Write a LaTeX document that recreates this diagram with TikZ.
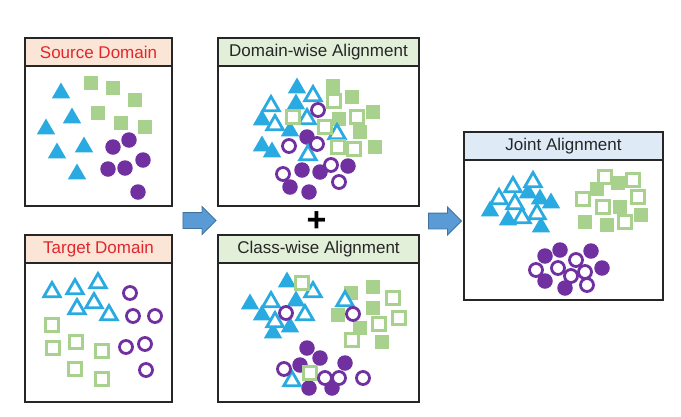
\documentclass[tikz,border=0pt]{standalone}
\usepackage{fontspec}
\setmainfont{Liberation Sans}
\usetikzlibrary{positioning,shapes.geometric,shapes.arrows}
\definecolor{triblue}{RGB}{41,171,226}
\definecolor{sqgreen}{RGB}{169,209,142}
\definecolor{dotpurple}{RGB}{112,48,160}
\definecolor{domhead}{RGB}{251,229,214}
\definecolor{alignhead}{RGB}{226,240,217}
\definecolor{jointhead}{RGB}{222,235,247}
\definecolor{domred}{RGB}{226,38,45}
\definecolor{arrowfill}{RGB}{91,155,213}
\definecolor{arrowline}{RGB}{65,113,156}

\begin{document}
\begin{tikzpicture}[
  x=1pt, y=-1pt,
  every node/.style={font=\fontsize{17}{19}\selectfont},
  panel/.style={draw=black!85, line width=1.3pt, fill=white,
    inner sep=0pt},
  header/.style={draw=black!85, line width=1.3pt, fill=#1,
    anchor=north, minimum height=28pt, inner sep=0pt},
  ftri/.style={regular polygon, regular polygon sides=3, fill=triblue,
    minimum size=21pt, inner sep=0pt},
  otri/.style={regular polygon, regular polygon sides=3, draw=triblue,
    fill=white, line width=2.8pt, minimum size=19pt, inner sep=0pt},
  fsq/.style={rectangle, fill=sqgreen, minimum size=14.5pt, inner sep=0pt},
  osq/.style={rectangle, draw=sqgreen, fill=white, line width=3pt,
    minimum size=13.5pt, inner sep=0pt},
  fdot/.style={circle, fill=dotpurple, minimum size=15.5pt, inner sep=0pt},
  odot/.style={circle, draw=dotpurple, fill=white, line width=2.8pt,
    minimum size=13pt, inner sep=0pt},
  blockarrow/.style={single arrow, draw=arrowline, fill=arrowfill,
    line width=0.8pt, inner xsep=0pt, inner ysep=7.5pt,
    single arrow head extend=6pt, minimum height=33pt},
]
\useasboundingbox (0,0) rectangle (681,416);

% ── PANELS ──
\node[panel, minimum width=147pt, minimum height=168pt] at ( 98.5,122.0) (src)   {};
\node[panel, minimum width=147pt, minimum height=167pt] at ( 98.5,318.5) (tgt)   {};
\node[panel, minimum width=201pt, minimum height=168pt] at (318.5,122.0) (dom)   {};
\node[panel, minimum width=201pt, minimum height=167pt] at (318.5,318.5) (cls)   {};
\node[panel, minimum width=199pt, minimum height=168pt] at (563.5,216.0) (joint) {};

\node[header=domhead, minimum width=147pt, text=domred] at (src.north) (srcH) {Source Domain};
\node[header=domhead, minimum width=147pt, text=domred] at (tgt.north) (tgtH) {Target Domain};
\node[header=alignhead, minimum width=201pt, text=black!85] at (dom.north) (domH) {Domain-wise Alignment};
\node[header=alignhead, minimum width=201pt, text=black!85] at (cls.north) (clsH) {Class-wise Alignment};
\node[header=jointhead, minimum width=199pt, text=black!85] at (joint.north) (jointH) {Joint Alignment};

% ── ARROWS + PLUS ──
\node[blockarrow] at (195.5,220.5) (arrL) {};
\node[blockarrow] at (441.0,221.0) (arrR) {};
\node[font=\fontsize{34}{34}\selectfont\bfseries, inner sep=0pt] at (316.5,221.5) (plus) {+};

% ── SOURCE DOMAIN ──
\foreach \x/\y [count=\i] in {61/93, 72/118, 46/129, 84/147, 57/153, 77/174}
  \node[ftri] at (\x,\y) (srcT\i) {};
\foreach \x/\y [count=\i] in {91/83, 113/88, 135/100, 98/113, 121/123, 145/127}
  \node[fsq] at (\x,\y) (srcS\i) {};
\foreach \x/\y [count=\i] in {129/140, 113/147, 143/160, 108/169, 125/168, 138/192}
  \node[fdot] at (\x,\y) (srcC\i) {};

% ── TARGET DOMAIN ──
\foreach \x/\y [count=\i] in {52/292, 75/289, 98/283, 77/309, 94/303, 109/315}
  \node[otri] at (\x,\y) (tgtT\i) {};
\foreach \x/\y [count=\i] in {52/325, 53/348, 76/342, 102/351, 75/369, 102/379}
  \node[osq] at (\x,\y) (tgtS\i) {};
\foreach \x/\y [count=\i] in {130/293, 133/316, 155/316, 126/347, 145/344, 146/370}
  \node[odot] at (\x,\y) (tgtC\i) {};

% ── DOMAIN-WISE ALIGNMENT ──
\foreach \x/\y [count=\i] in {297/88, 296/104, 262/120, 290/131, 262/146, 272/152}
  \node[ftri] at (\x,\y) (domFT\i) {};
\foreach \x/\y [count=\i] in {333/86, 352/97, 373/112, 339/119, 360/132, 375/147}
  \node[fsq] at (\x,\y) (domFS\i) {};
\foreach \x/\y [count=\i] in {307/137, 302/170, 320/172, 348/166, 290/187, 309/192}
  \node[fdot] at (\x,\y) (domFC\i) {};
\foreach \x/\y [count=\i] in {271/106, 313/96, 275/125, 307/119, 337/134, 308/155}
  \node[otri] at (\x,\y) (domOT\i) {};
\foreach \x/\y [count=\i] in {334/101, 293/117, 325/127, 357/117, 338/147, 354/149}
  \node[osq] at (\x,\y) (domOS\i) {};
\foreach \x/\y [count=\i] in {318/110, 289/146, 317/144, 283/174, 331/165, 339/182}
  \node[odot] at (\x,\y) (domOC\i) {};

% ── CLASS-WISE ALIGNMENT ──
\foreach \x/\y [count=\i] in {287/282, 250/304, 262/315, 296/301, 290/327, 273/333}
  \node[ftri] at (\x,\y) (clsFT\i) {};
\foreach \x/\y [count=\i] in {351/293, 373/287, 338/315, 373/308, 360/328, 382/342}
  \node[fsq] at (\x,\y) (clsFS\i) {};
\foreach \x/\y [count=\i] in {307/348, 320/358, 300/365, 345/363, 309/388, 332/388}
  \node[fdot] at (\x,\y) (clsFC\i) {};
\foreach \x/\y [count=\i] in {313/292, 271/302, 305/315, 275/322, 345/301, 292/381}
  \node[otri] at (\x,\y) (clsOT\i) {};
\foreach \x/\y [count=\i] in {302/283, 393/298, 399/318, 379/324, 352/340, 310/373}
  \node[osq] at (\x,\y) (clsOS\i) {};
\foreach \x/\y [count=\i] in {286/313, 353/314, 284/369, 325/378, 339/378, 363/378}
  \node[odot] at (\x,\y) (clsOC\i) {};

% ── JOINT ALIGNMENT ──
\foreach \x/\y [count=\i] in {528/193, 540/199, 551/203, 490/211, 508/220, 541/227}
  \node[ftri] at (\x,\y) (jntFT\i) {};
\foreach \x/\y [count=\i] in {597/189, 618/183, 620/207, 585/222, 607/225, 641/215}
  \node[fsq] at (\x,\y) (jntFS\i) {};
\foreach \x/\y [count=\i] in {545/256, 560/250, 591/251, 602/268, 545/281, 565/288}
  \node[fdot] at (\x,\y) (jntFC\i) {};
\foreach \x/\y [count=\i] in {513/187, 533/182, 499/199, 515/204, 537/214, 522/218}
  \node[otri] at (\x,\y) (jntOT\i) {};
\foreach \x/\y [count=\i] in {605/177, 633/180, 583/199, 603/207, 638/197, 625/222}
  \node[osq] at (\x,\y) (jntOS\i) {};
\foreach \x/\y [count=\i] in {536/270, 558/268, 576/260, 571/276, 585/272, 587/285}
  \node[odot] at (\x,\y) (jntOC\i) {};

\end{tikzpicture}
\end{document}
